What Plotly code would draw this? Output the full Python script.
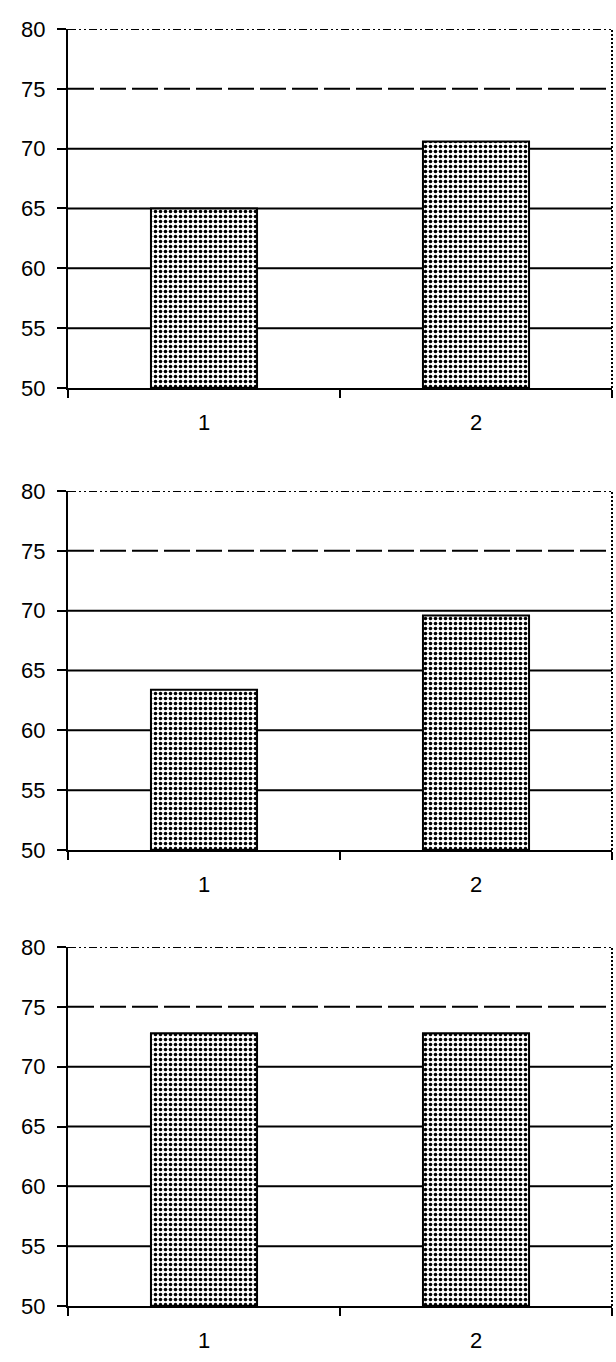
import plotly.graph_objects as go
from plotly.subplots import make_subplots

categories = ["1", "2"]
panel1_values = [65.0, 70.6]
panel2_values = [63.4, 69.6]
panel3_values = [72.8, 72.8]
panels = [panel1_values, panel2_values, panel3_values]

y_ticks = [50, 55, 60, 65, 70, 75, 80]
solid_grid = [55, 60, 65, 70]
dashed_grid = [75]
dotted_grid = [80]

FONT = "Liberation Sans, Arial, sans-serif"

fig = make_subplots(rows=3, cols=1)

domains = [[0.7189, 1.0], [0.3571, 0.6382], [0.0, 0.2811]]

for i, vals in enumerate(panels):
    r = i + 1
    fig.add_trace(
        go.Bar(
            x=categories,
            y=[v - 50 for v in vals],
            base=50,
            width=0.39,
            marker=dict(
                color="white",
                line=dict(color="black", width=2),
                pattern=dict(shape=".", fgcolor="black", bgcolor="white",
                             size=5, solidity=0.4, fillmode="replace"),
            ),
            showlegend=False,
            hoverinfo="skip",
        ),
        row=r, col=1,
    )
    ax = "" if r == 1 else str(r)
    xref = "x" + ax
    yref = "y" + ax
    for g in solid_grid:
        fig.add_shape(type="line", xref=xref + " domain", yref=yref,
                      x0=0, x1=1, y0=g, y1=g, layer="below",
                      line=dict(color="black", width=2))
    for g in dashed_grid:
        fig.add_shape(type="line", xref=xref + " domain", yref=yref,
                      x0=0, x1=1, y0=g, y1=g, layer="below",
                      line=dict(color="black", width=2, dash="26px,6px"))
    for g in dotted_grid:
        fig.add_shape(type="line", xref=xref + " domain", yref=yref,
                      x0=0, x1=1, y0=g, y1=g, layer="below",
                      line=dict(color="black", width=2, dash="8px,3px,2px,3px,2px,3px"))
    # right border
    fig.add_shape(type="line", xref=xref + " domain", yref=yref,
                  x0=1, x1=1, y0=50, y1=80, layer="above",
                  line=dict(color="black", width=2, dash="2px,2px"))

    fig.update_yaxes(
        row=r, col=1,
        range=[50, 80], tickvals=y_ticks, showgrid=False, zeroline=False,
        showline=True, linecolor="black", linewidth=2,
        ticks="outside", ticklen=9, tickwidth=2, tickcolor="black",
        ticklabelstandoff=7, automargin=False,
        tickfont=dict(family=FONT, size=22, color="black"),
        domain=domains[i], fixedrange=True,
    )
    fig.update_xaxes(
        row=r, col=1,
        type="category", range=[-0.5, 1.5], showgrid=False, zeroline=False,
        showline=True, linecolor="black", linewidth=2,
        ticks="outside", ticklen=8, tickwidth=2, tickcolor="black",
        tickson="boundaries", ticklabelstandoff=14, automargin=False,
        tickfont=dict(family=FONT, size=22, color="black"),
        fixedrange=True,
    )

fig.update_layout(
    width=616, height=1362,
    margin=dict(l=68, r=4, t=29, b=56, autoexpand=False),
    paper_bgcolor="white", plot_bgcolor="white",
    bargap=0.61,
)

fig.write_html(
    "out.html",
    config={"displayModeBar": False, "staticPlot": True},
    post_script="document.body.style.margin='0px';document.body.style.padding='0px';",
)
